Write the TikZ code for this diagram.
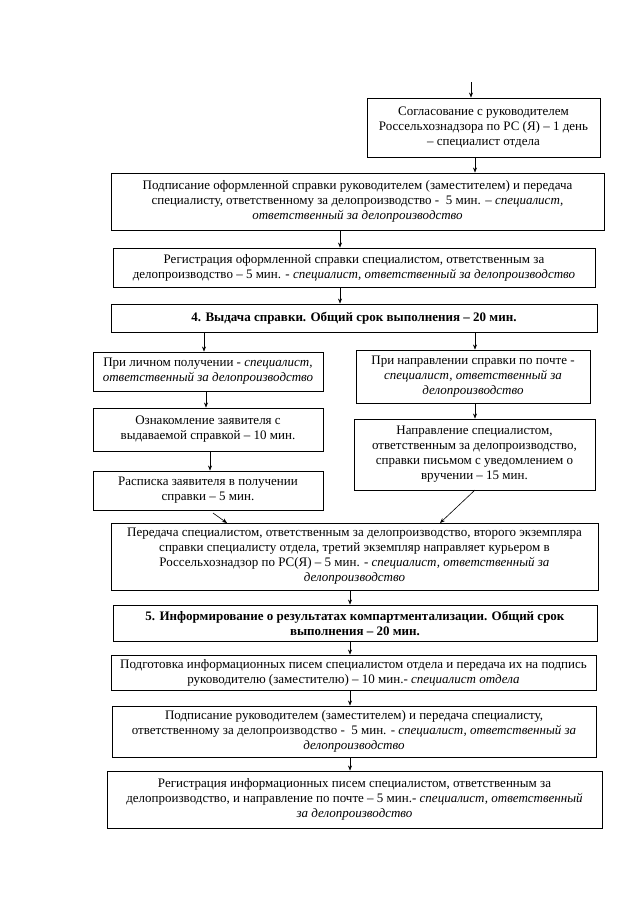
\documentclass[tikz,border=0pt]{standalone}
\usepackage{fontspec}
\setmainfont{Liberation Serif}
\usetikzlibrary{arrows.meta}
\tikzset{
  box/.style={draw, line width=0.9pt, inner sep=1pt, align=center,
    font=\fontsize{13}{15}\selectfont},
  arr/.style={line width=0.6pt, -{Stealth[length=5pt,width=4pt]}}
}
\newcommand{\flowbox}[6]{\node[box, minimum width={#4-#2}, minimum height={#5-#3}] (#1) at ({(#2+#4)/2},{(#3+#5)/2}) {#6};}
\begin{document}
\begin{tikzpicture}[x=1pt,y=-1pt]
\useasboundingbox (0,0) rectangle (632,905);
\flowbox{b1}{367}{98}{600}{157}{Согласование с руководителем\\Россельхознадзора по РС (Я) – 1 день\\– специалист отдела}
\flowbox{b2}{111}{173}{604}{230}{Подписание оформленной справки руководителем (заместителем) и передача\\специалисту, ответственному за делопроизводство -\ \ 5 мин. – \textit{специалист,}\\\textit{ответственный за делопроизводство}}
\flowbox{b3}{113}{248}{595}{287}{Регистрация оформленной справки специалистом, ответственным за\\делопроизводство – 5 мин. - \textit{специалист, ответственный за делопроизводство}}
\flowbox{b4}{111}{304}{597}{332}{\textbf{4. Выдача справки. Общий срок выполнения – 20 мин.}}
\flowbox{a1}{93}{352}{323}{391}{При личном получении - \textit{специалист,}\\\textit{ответственный за делопроизводство}}
\flowbox{a2}{93}{408}{323}{451}{Ознакомление заявителя с\\выдаваемой справкой – 10 мин.}
\flowbox{a3}{93}{471}{323}{510}{Расписка заявителя в получении\\справки – 5 мин.}
\flowbox{c1}{356}{350}{590}{403}{При направлении справки по почте -\\\textit{специалист, ответственный за}\\\textit{делопроизводство}}
\flowbox{c2}{354}{419}{595}{490}{Направление специалистом,\\ответственным за делопроизводство,\\справки письмом с уведомлением о\\вручении – 15 мин.}
\flowbox{b5}{111}{523}{598}{590}{Передача специалистом, ответственным за делопроизводство, второго экземпляра\\справки специалисту отдела, третий экземпляр направляет курьером в\\Россельхознадзор по РС(Я) – 5 мин. - \textit{специалист, ответственный за}\\\textit{делопроизводство}}
\flowbox{b6}{113}{605}{597}{641}{\textbf{5. Информирование о результатах компартментализации. Общий срок}\\\textbf{выполнения – 20 мин.}}
\flowbox{b7}{111}{655}{596}{690}{Подготовка информационных писем специалистом отдела и передача их на подпись\\руководителю (заместителю) – 10 мин.- \textit{специалист отдела}}
\flowbox{b8}{112}{706}{596}{757}{Подписание руководителем (заместителем) и передача специалисту,\\ответственному за делопроизводство -\ \ 5 мин. - \textit{специалист, ответственный за}\\\textit{делопроизводство}}
\flowbox{b9}{107}{771}{602}{828}{Регистрация информационных писем специалистом, ответственным за\\делопроизводство, и направление по почте – 5 мин.- \textit{специалист, ответственный}\\\textit{за делопроизводство}}
\coordinate (top) at (471,82);
\coordinate (a3out) at (213,513);
\coordinate (a3in) at (227,523);
\coordinate (c2out) at (475,490);
\coordinate (c2in) at (440,523);
\draw[arr] (top) -- (top |- b1.north);
\draw[arr] (b1.south -| 475,0) -- (b2.north -| 475,0);
\draw[arr] (b2.south -| 340,0) -- (b3.north -| 340,0);
\draw[arr] (b3.south -| 340,0) -- (b4.north -| 340,0);
\draw[arr] (b4.south -| 204,0) -- (a1.north -| 204,0);
\draw[arr] (b4.south -| 475,0) -- (c1.north -| 475,0);
\draw[arr] (a1.south -| 206,0) -- (a2.north -| 206,0);
\draw[arr] (a2.south -| 210,0) -- (a3.north -| 210,0);
\draw[arr] (c1.south -| 475,0) -- (c2.north -| 475,0);
\draw[arr] (a3out) -- (a3in);
\draw[arr] (c2out) -- (c2in);
\draw[arr] (b5.south -| 350,0) -- (b6.north -| 350,0);
\draw[arr] (b6.south -| 350,0) -- (b7.north -| 350,0);
\draw[arr] (b7.south -| 350,0) -- (b8.north -| 350,0);
\draw[arr] (b8.south -| 350,0) -- (b9.north -| 350,0);
\end{tikzpicture}
\end{document}
